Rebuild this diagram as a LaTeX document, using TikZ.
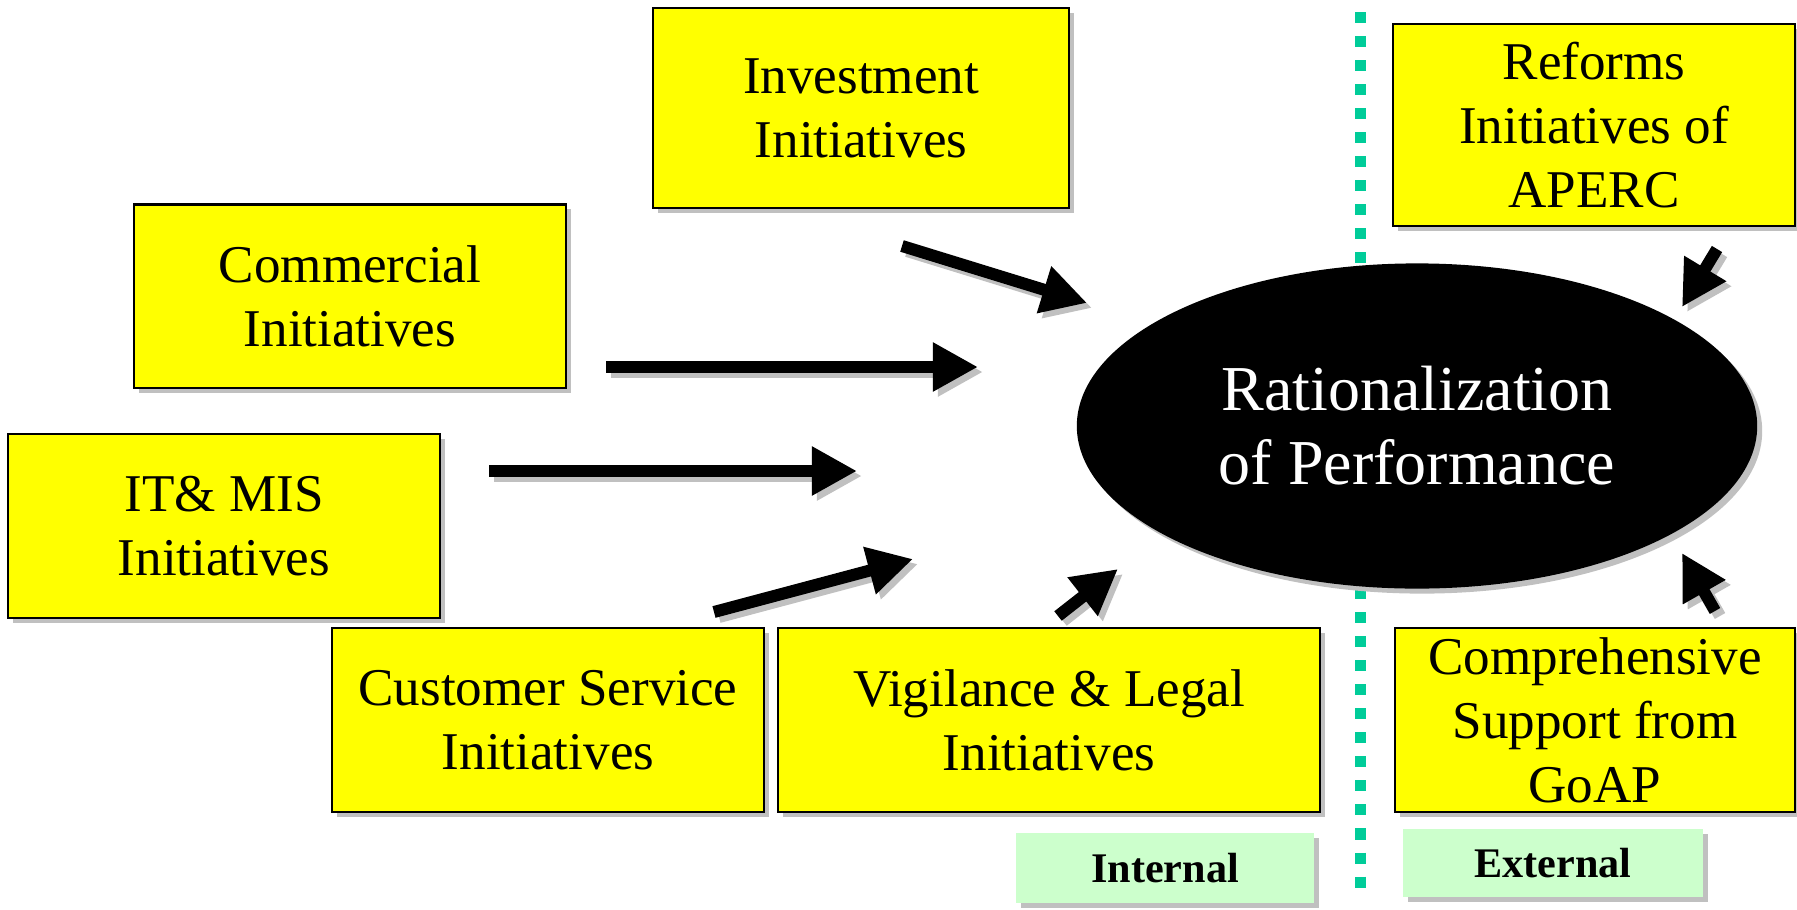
\documentclass[tikz,border=0pt]{standalone}
\usepackage{fontspec}
\setmainfont{Liberation Serif}
\usetikzlibrary{arrows.meta,shadows,shapes.geometric}
\definecolor{inityellow}{RGB}{255,255,0}
\definecolor{scopegreen}{RGB}{204,255,204}
\definecolor{divteal}{RGB}{0,204,153}
\definecolor{shadegray}{RGB}{192,192,192}
\tikzset{
  boxshadow/.style={drop shadow={shadow xshift=0.05cm,shadow yshift=-0.05cm,fill=shadegray,opacity=1}},
  initbox/.style={draw,line width=0.6pt,fill=inityellow,align=center,inner sep=0pt,
    font=\fontsize{15.1}{18.2}\selectfont,boxshadow},
  scopebox/.style={fill=scopegreen,inner sep=0pt,font=\fontsize{12}{14}\selectfont\bfseries,boxshadow},
  pusharrow/.style={line width=0.12cm,-{Triangle[length=0.45cm,width=0.46cm]}},
}

\begin{document}
\begin{tikzpicture}[x=0.01cm,y=-0.01cm]
\useasboundingbox (0,0) rectangle (1797,909);
% Internal / external divider
\draw[divteal,line width=0.11cm,dash pattern=on 0.11cm off 0.13cm] (1360,12) -- (1360,888);
% Central goal
\node[ellipse,fill=black,text=white,minimum width=6.8cm,minimum height=3.25cm,inner sep=0pt,
  align=center,font=\fontsize{18.2}{21}\selectfont,boxshadow] (goal) at (1417,426)
  {Rationalization\\of Performance};
% Internal initiatives
\node[initbox,minimum width=4.16cm,minimum height=1.99cm] (invest) at (861,108) {Investment\\Initiatives};
\node[initbox,minimum width=4.31cm,minimum height=1.83cm] (comm) at (350,296) {Commercial\\Initiatives};
\node[initbox,minimum width=4.31cm,minimum height=1.84cm] (itmis) at (224,526) {IT\& MIS\\Initiatives};
\node[initbox,minimum width=4.31cm,minimum height=1.84cm] (cust) at (548,720) {Customer Service\\Initiatives};
\node[initbox,minimum width=5.42cm,minimum height=1.84cm] (vigil) at (1049,720) {Vigilance \& Legal\\Initiatives};
% External initiatives
\node[initbox,minimum width=4.02cm,minimum height=2.02cm] (aperc) at (1594,125) {Reforms\\Initiatives of\\APERC};
\node[initbox,minimum width=3.99cm,minimum height=1.84cm] (goap) at (1595,720) {Comprehensive\\Support from\\GoAP};
% Scope labels
\node[scopebox,minimum width=2.98cm,minimum height=0.69cm] (internal) at (1165,868) {Internal};
\node[scopebox,minimum width=2.99cm,minimum height=0.68cm] (external) at (1553,863) {External};
% Arrow ends
\coordinate (invest-t) at (902,246);  \coordinate (invest-h) at (1087,303);
\coordinate (comm-t) at (606,367);    \coordinate (comm-h) at (978,367);
\coordinate (itmis-t) at (489,471);   \coordinate (itmis-h) at (857,471);
\coordinate (cust-t) at (714,612);    \coordinate (cust-h) at (913,559);
\coordinate (vigil-t) at (1058,616);  \coordinate (vigil-h) at (1118,569);
\coordinate (aperc-t) at (1717,249);  \coordinate (aperc-h) at (1682,307);
\coordinate (goap-t) at (1715,611);   \coordinate (goap-h) at (1682,553);
% Arrows with their shadows
\foreach \src in {invest,comm,itmis,cust,vigil,aperc,goap} {
  \draw[pusharrow,shadegray,transform canvas={shift={(0.05cm,-0.05cm)}}] (\src-t) -- (\src-h);
  \draw[pusharrow] (\src-t) -- (\src-h);
}
\end{tikzpicture}
\end{document}
